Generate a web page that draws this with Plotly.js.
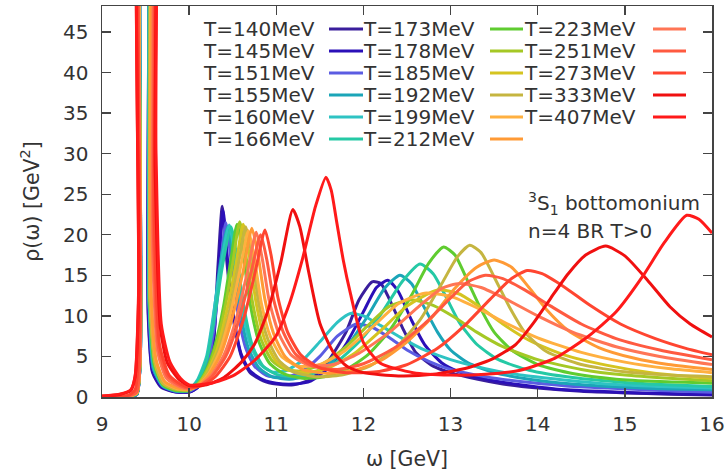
<!DOCTYPE html>
<html><head><meta charset="utf-8">
<script src="https://cdn.plot.ly/plotly-3.0.1.min.js"></script>
<style>html,body{margin:0;padding:0;background:#fff}#chart{width:728px;height:476px}</style>
</head><body><div id="chart"></div>
<script>
// ---- data ----
const temperatures = [140,145,151,155,160,166,173,178,185,192,199,212,223,251,273,333,407];
const seriesColors = ['#3a1e9c','#2b10b8','#5b5ce2','#1ba5b8','#2ec3c3','#25c9a5','#5fcc30','#a5c825','#d5c420','#c5b540','#ffb040','#ff9a35','#ff7555','#ff5a40','#ff4530','#f01010','#ff1a1a'];

const omega140 = [9.0,9.3,9.4,9.44,9.47,9.5,9.53,9.58,9.68,9.85,10.0,10.1,10.2,10.28,10.33,10.38,10.43,10.5,10.6,10.7,10.85,11.0,11.2,11.4,11.6,11.8,11.95,12.1,12.2,12.3,12.45,12.6,12.8,13.0,13.3,13.6,14.0,14.5,15.0,15.5,16.0];
const rho140   = [0.02,0.05,0.3,5,80,80,10,3,1.2,0.6,0.6,1.2,3,7,16,23.5,17,10,5,3,2,1.6,1.5,2.2,4.5,8,12,14.2,14.0,12,8.5,5.5,3.8,3,2.2,1.6,1.1,0.7,0.5,0.35,0.25];

const omega145 = [9.0,9.3,9.4,9.44,9.47,9.5,9.53,9.58,9.68,9.85,10.0,10.1,10.2,10.28,10.34,10.39,10.44,10.51,10.6,10.7,10.85,11.0,11.2,11.4,11.6,11.8,12.0,12.15,12.28,12.4,12.55,12.7,12.9,13.1,13.4,13.8,14.2,14.7,15.2,15.6,16.0];
const rho145   = [0.02,0.05,0.3,5,80,80,11,3.2,1.3,0.6,0.6,1.2,3,7,16,23,17,10,5.2,3.2,2.1,1.7,1.6,2,3.6,6.5,10.5,13.5,14.4,13,9.5,6.5,4.2,3.1,2.2,1.5,1.0,0.7,0.5,0.4,0.3];

const omega151 = [9.0,9.3,9.4,9.44,9.47,9.5,9.54,9.59,9.7,9.85,10.0,10.1,10.2,10.28,10.35,10.42,10.48,10.55,10.65,10.75,10.9,11.1,11.3,11.5,11.7,11.92,12.1,12.3,12.5,12.75,13.0,13.4,13.8,14.3,14.8,15.4,16.0];
const rho151   = [0.03,0.06,0.35,5,80,80,11,3.4,1.3,0.7,0.7,1.4,3.6,8,15,21.5,17,11,6,3.8,2.6,2.4,3.2,5,7.5,9.0,8.6,7.3,5.8,4.4,3.4,2.5,1.9,1.4,1.1,0.8,0.6];

const omega155 = [9.0,9.3,9.4,9.44,9.47,9.5,9.54,9.59,9.7,9.85,10.0,10.1,10.2,10.27,10.35,10.44,10.5,10.58,10.68,10.8,10.95,11.15,11.35,11.6,11.85,12.05,12.25,12.42,12.55,12.7,12.85,13.0,13.2,13.5,13.9,14.4,15.0,15.5,16.0];
const rho155   = [0.03,0.06,0.35,5,80,80,12,3.5,1.3,0.7,0.8,1.8,4.5,9,16,21,17.5,11,6,3.6,2.5,2.2,2.6,4,6.8,10,13.5,15,14,11,8,5.8,4.2,3,2.2,1.6,1.2,1.0,0.9];

const omega160 = [9.0,9.3,9.4,9.44,9.47,9.5,9.54,9.6,9.7,9.85,10.0,10.1,10.2,10.27,10.36,10.46,10.53,10.6,10.7,10.82,10.95,11.1,11.3,11.5,11.7,11.85,12.0,12.2,12.45,12.7,13.0,13.4,13.8,14.3,14.8,15.4,16.0];
const rho160   = [0.03,0.07,0.4,5,80,80,12,3.5,1.4,0.8,0.9,2.2,5,9.5,16,21.2,17,11.5,6.5,4,3.1,3.2,4.5,6.8,9.2,10.3,10,8.8,7.2,5.8,4.6,3.5,2.7,2.1,1.6,1.3,1.1];

const omega166 = [9.0,9.3,9.4,9.44,9.47,9.5,9.54,9.6,9.7,9.85,10.0,10.1,10.2,10.28,10.38,10.48,10.55,10.63,10.73,10.85,11.0,11.2,11.45,11.7,11.95,12.2,12.45,12.65,12.8,12.95,13.1,13.3,13.55,13.9,14.4,15.0,15.5,16.0];
const rho166   = [0.03,0.07,0.4,5,80,80,12,3.6,1.4,0.8,0.9,2.0,4.6,9,16,21,17,11,6.2,3.8,2.8,2.5,3.0,4.4,6.8,10.2,14.3,16.4,15.2,12.3,9.2,6.5,4.6,3.3,2.4,1.8,1.5,1.3];

const omega173 = [9.0,9.3,9.4,9.44,9.47,9.51,9.55,9.6,9.7,9.85,10.0,10.1,10.2,10.3,10.4,10.48,10.55,10.62,10.7,10.8,10.92,11.08,11.3,11.55,11.8,12.05,12.3,12.55,12.75,12.92,13.05,13.2,13.35,13.5,13.7,14.0,14.4,14.9,15.4,16.0];
const rho173   = [0.04,0.08,0.45,5.5,80,80,12,4,1.5,0.8,0.8,1.6,3.4,6.5,11.5,17,21.3,17.5,11.5,6.8,4.2,2.9,2.3,2.5,3.4,5.2,8.2,12.5,16.5,18.5,17.5,14.2,10.8,8,5.8,4,2.9,2.2,1.9,1.7];

const omega178 = [9.0,9.3,9.4,9.44,9.47,9.51,9.55,9.61,9.7,9.85,10.0,10.1,10.2,10.3,10.42,10.5,10.58,10.65,10.73,10.83,10.95,11.1,11.3,11.55,11.8,12.05,12.3,12.55,12.8,13.05,13.3,13.6,14.0,14.5,15.0,15.5,16.0];
const rho178   = [0.04,0.08,0.45,5.5,80,80,12,4,1.6,0.9,0.9,1.6,3.2,6,11.5,16.5,21.6,17.5,11.5,7,4.5,3.4,3.2,4.2,6.2,8.8,11.2,12,11.3,9.8,8,6.2,4.6,3.4,2.7,2.3,2.0];

const omega185 = [9.0,9.3,9.4,9.44,9.47,9.51,9.55,9.61,9.7,9.85,10.0,10.1,10.2,10.32,10.44,10.54,10.62,10.69,10.77,10.87,11.0,11.15,11.35,11.6,11.9,12.2,12.5,12.85,13.1,13.35,13.6,13.9,14.3,14.8,15.3,16.0];
const rho185   = [0.04,0.09,0.5,6,80,80,13,4.2,1.7,1.0,0.9,1.5,2.9,5.8,11,16.5,21.3,17.5,11.5,7,4.4,3.3,3.0,3.6,5.4,8.2,11.2,13.2,12.7,11,9.0,7.0,5.2,3.9,3.0,2.3];

const omega192 = [9.0,9.3,9.4,9.44,9.47,9.51,9.55,9.61,9.7,9.85,10.0,10.1,10.2,10.33,10.46,10.56,10.65,10.72,10.8,10.9,11.03,11.2,11.45,11.75,12.05,12.35,12.65,12.9,13.08,13.22,13.35,13.5,13.68,13.85,14.1,14.5,15.0,15.5,16.0];
const rho192   = [0.05,0.09,0.5,6,80,80,13,4.3,1.7,1.0,0.9,1.4,2.7,5.5,10.5,16,21,17.5,11.5,7.2,4.5,3.1,2.5,2.7,3.7,5.8,9.5,14,17.3,18.7,17.8,14.8,11,8,5.6,4.0,3.1,2.7,2.5];

const omega199 = [9.0,9.3,9.4,9.44,9.47,9.51,9.56,9.62,9.72,9.87,10.0,10.1,10.22,10.35,10.48,10.59,10.68,10.75,10.83,10.93,11.06,11.25,11.5,11.8,12.1,12.4,12.7,13.0,13.3,13.6,14.0,14.5,15.0,15.5,16.0];
const rho199   = [0.05,0.1,0.55,6,80,80,13,4.4,1.8,1.0,1.0,1.4,2.8,5.6,10.5,16,20.5,17,11.5,7.5,5,3.8,4.0,5.8,8.6,11.5,12.8,12.4,11,9.3,7.3,5.5,4.3,3.5,3.0];

const omega212 = [9.0,9.3,9.4,9.44,9.47,9.52,9.56,9.62,9.72,9.87,10.0,10.1,10.22,10.36,10.5,10.62,10.72,10.79,10.87,10.97,11.1,11.3,11.6,11.9,12.2,12.5,12.8,13.05,13.3,13.5,13.7,13.9,14.1,14.35,14.7,15.1,15.5,16.0];
const rho212   = [0.05,0.1,0.55,6.5,80,80,14,4.6,1.9,1.1,1.0,1.4,2.6,5.2,10,15.5,20.8,17.5,12,7.8,5.0,3.4,2.9,3.3,4.5,6.8,10,13.4,16,16.9,16,13.5,10.8,8.2,6.1,4.8,4.0,3.4];

const omega223 = [9.0,9.3,9.4,9.44,9.47,9.53,9.58,9.64,9.74,9.88,10.0,10.12,10.25,10.4,10.55,10.67,10.77,10.84,10.92,11.03,11.17,11.38,11.65,11.95,12.3,12.65,12.9,13.1,13.35,13.65,14.0,14.4,14.9,15.4,16.0];
const rho223   = [0.06,0.12,0.6,7,80,80,18,5.5,2.3,1.3,1.0,1.4,2.6,5.2,10,15.5,20.3,17,11.8,7.8,5.2,3.9,4.0,5.4,8,11.3,13.4,14.0,13.5,12,10,8,6.2,5,4.0];

const omega251 = [9.0,9.3,9.4,9.44,9.47,9.54,9.59,9.65,9.75,9.9,10.0,10.12,10.26,10.42,10.58,10.71,10.82,10.89,10.97,11.08,11.22,11.42,11.7,12.0,12.35,12.7,13.0,13.2,13.4,13.6,13.85,14.15,14.5,14.9,15.4,16.0];
const rho251   = [0.07,0.15,0.7,7.5,80,80,20,6,2.6,1.4,1.1,1.4,2.5,5,9.8,15.3,20,17,12,8,5.3,3.8,3.4,4.1,6,9,12.2,14.2,15,14.6,13.2,11.2,9.0,7.2,5.8,4.6];

const omega273 = [9.0,9.3,9.38,9.43,9.47,9.55,9.6,9.66,9.77,9.9,10.0,10.15,10.3,10.47,10.63,10.76,10.87,10.94,11.02,11.13,11.28,11.5,11.8,12.15,12.5,12.85,13.15,13.45,13.7,13.88,14.05,14.3,14.6,14.95,15.35,15.7,16.0];
const rho273   = [0.08,0.2,0.9,8,80,80,22,6.5,2.7,1.6,1.2,1.4,2.5,5,9.8,15.5,20.6,17.5,12.2,8,5.2,3.6,3.0,3.1,4.0,6,8.7,12,14.6,15.6,15.2,13.6,11.3,9,7.2,6,5.2];

const omega333 = [9.0,9.2,9.33,9.38,9.42,9.46,9.56,9.61,9.67,9.75,9.88,10.0,10.2,10.4,10.6,10.75,10.9,11.05,11.19,11.27,11.37,11.5,11.65,11.81,12.0,12.4,12.8,13.2,13.5,13.75,13.95,14.15,14.35,14.55,14.78,15.0,15.26,15.52,15.75,16.0];
const rho333   = [0.1,0.3,0.8,2.5,12,80,80,28,8.5,4.2,2.2,1.4,1.5,2.4,4.3,6.5,10.5,16.5,23.1,21,15.5,9.1,5.6,3.8,3.0,2.6,2.8,3.6,4.8,6.5,9.1,12.2,15.2,17.5,18.6,17.4,14.4,11.1,9.0,7.4];

const omega407 = [9.0,9.2,9.33,9.38,9.42,9.46,9.56,9.62,9.68,9.78,9.9,10.0,10.25,10.5,10.75,10.99,11.15,11.3,11.45,11.57,11.63,11.69,11.77,11.85,12.0,12.19,12.57,13.0,13.4,13.8,14.2,14.57,14.9,15.2,15.45,15.71,15.85,16.0];
const rho407   = [0.12,0.35,0.9,2.6,13,80,80,30,9,4.3,2.3,1.5,1.7,2.6,4.5,7.4,11.5,17,23.5,27.1,25.5,21.8,16.8,12.8,6.7,4.2,3.0,2.7,2.8,3.3,4.8,7.4,10.5,14.8,19,22.4,21.9,20.2];

const omegaSeries = [omega140,omega145,omega151,omega155,omega160,omega166,omega173,omega178,omega185,omega192,omega199,omega212,omega223,omega251,omega273,omega333,omega407];
const rhoSeries   = [rho140,rho145,rho151,rho155,rho160,rho166,rho173,rho178,rho185,rho192,rho199,rho212,rho223,rho251,rho273,rho333,rho407];

const xTicks = [9,10,11,12,13,14,15,16];
const yTicks = [0,5,10,15,20,25,30,35,40,45];

// ---- layout geometry ----
const W = 728, H = 476;
const plotL = 102, plotR = 712, plotT = 6, plotB = 397;
const pxX = p => (p - plotL) / (plotR - plotL);
const pxY = p => (plotB - p) / (plotB - plotT);
const FONT = '"DejaVu Sans", Verdana, sans-serif';
const TXT = '#333333';

const traces = temperatures.map((t, i) => ({
  x: omegaSeries[i], y: rhoSeries[i], type: 'scatter', mode: 'lines',
  name: 'T=' + t + 'MeV',
  line: {color: seriesColors[i], width: 3, shape: 'spline', smoothing: 0.6},
  hoverinfo: 'skip', showlegend: false
}));

// gnuplot-style key: text then sample line, 3 columns x 6 rows
const colTextRight = [317, 477, 638];
const colSample = [[329, 363], [490, 523], [653, 686]];
const rowY0 = 29, rowStep = 22;
const annotations = [];
const shapes = [];
temperatures.forEach((t, k) => {
  const col = Math.floor(k / 6), row = k % 6;
  const yy = pxY(rowY0 + row * rowStep);
  annotations.push({xref: 'paper', yref: 'paper', x: pxX(colTextRight[col]), y: yy,
    xanchor: 'right', yanchor: 'middle', showarrow: false, text: 'T=' + t + 'MeV',
    font: {family: FONT, size: 20, color: TXT}});
  shapes.push({type: 'line', xref: 'paper', yref: 'paper',
    x0: pxX(colSample[col][0]), x1: pxX(colSample[col][1]), y0: yy, y1: yy,
    line: {color: seriesColors[k], width: 3}});
});
annotations.push({xref: 'paper', yref: 'paper', x: pxX(526), y: pxY(203), xanchor: 'left', yanchor: 'middle',
  showarrow: false, text: '<sup>3</sup>S<sub>1</sub> bottomonium', font: {family: FONT, size: 20, color: TXT}});
annotations.push({xref: 'paper', yref: 'paper', x: pxX(526), y: pxY(231), xanchor: 'left', yanchor: 'middle',
  showarrow: false, text: 'n=4 BR T>0', font: {family: FONT, size: 20, color: TXT}});

const axisCommon = {
  showgrid: false, zeroline: false, showline: true, linecolor: '#444', linewidth: 1.5,
  mirror: 'ticks', ticks: 'inside', ticklen: 9, tickwidth: 1.3, tickcolor: '#444',
  tickfont: {family: FONT, size: 20, color: TXT}
};

const layout = {
  width: W, height: H,
  margin: {l: plotL, r: W - plotR, t: plotT, b: H - plotB, autoexpand: false},
  paper_bgcolor: '#fff', plot_bgcolor: '#fff',
  showlegend: false,
  xaxis: Object.assign({}, axisCommon, {range: [9, 16], tickvals: xTicks, ticktext: xTicks.map(String),
    ticklabelstandoff: 8,
    title: {text: 'ω [GeV]', font: {family: FONT, size: 20.5, color: TXT}, standoff: 17}}),
  yaxis: Object.assign({}, axisCommon, {range: [0, 48.2], tickvals: yTicks, ticktext: yTicks.map(String),
    ticklabelstandoff: 8,
    title: {text: 'ρ(ω) [GeV<sup>2</sup>]', font: {family: FONT, size: 20.5, color: TXT}, standoff: 18}}),
  annotations: annotations,
  shapes: shapes
};

Plotly.newPlot('chart', traces, layout, {staticPlot: true, displayModeBar: false});
</script>
</body></html>
